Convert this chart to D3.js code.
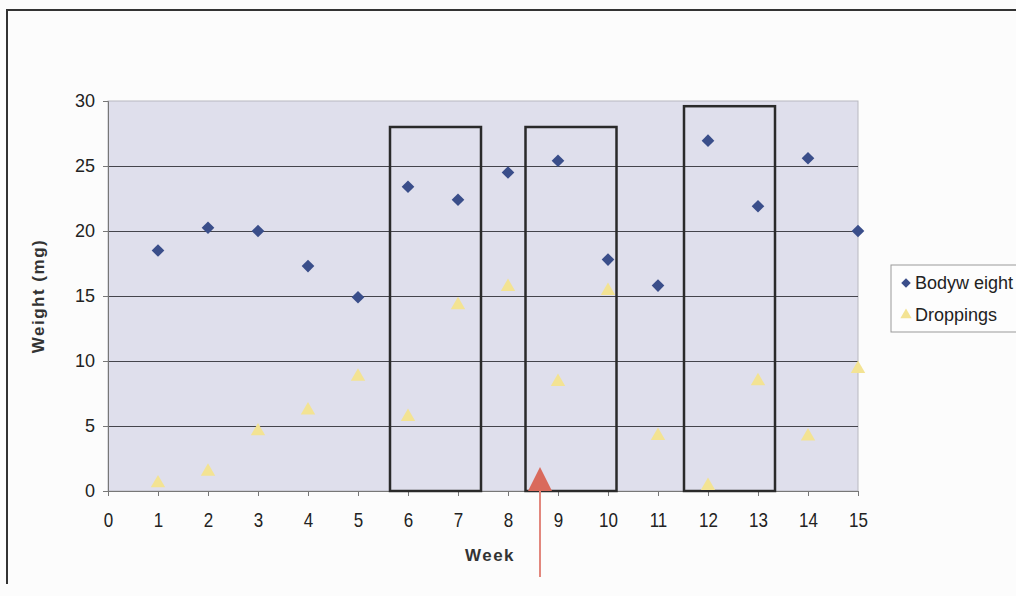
<!DOCTYPE html>
<html>
<head>
<meta charset="utf-8">
<script src="https://cdn.jsdelivr.net/npm/d3@7/dist/d3.min.js"></script>
<style>
  html, body { margin: 0; padding: 0; background: #fcfcfc; }
  svg { display: block; font-family: "Liberation Sans", Arial, sans-serif; }
</style>
</head>
<body>
<svg id="chart" width="1016" height="596"></svg>
<script>
// Weekly measurements
const weeks = [1, 2, 3, 4, 5, 6, 7, 8, 9, 10, 11, 12, 13, 14, 15];
const bodyweight = [18.5, 20.25, 20.0, 17.3, 14.9, 23.4, 22.4, 24.5, 25.4, 17.8, 15.8, 26.95, 21.9, 25.6, 20.0];
const droppings = [0.6, 1.5, 4.6, 6.2, 8.8, 5.7, 14.3, 15.7, 8.4, 15.4, 4.25, 0.4, 8.45, 4.2, 9.4];

// Axis ticks
const xTicks = d3.range(0, 16);
const yTicks = [0, 5, 10, 15, 20, 25, 30];

// Highlighted periods (in weeks) and their heights
const boxStart = [5.64, 8.35, 11.52];
const boxEnd = [7.46, 10.17, 13.34];
const boxTop = [28, 28, 29.6];

// Treatment marker
const arrowWeek = 8.64;

const seriesNames = ["Bodyw eight", "Droppings"];

const svg = d3.select("#chart");

// Outer chart frame
svg.append("path")
  .attr("d", "M7,584 L7,10 L1016,10")
  .attr("fill", "none")
  .attr("stroke", "#333")
  .attr("stroke-width", 2);

const x = d3.scaleLinear().domain([0, 15]).range([108, 858]);
const y = d3.scaleLinear().domain([0, 30]).range([491, 101]);

// Plot background
svg.append("rect")
  .attr("x", x(0)).attr("y", y(30))
  .attr("width", x(15) - x(0)).attr("height", y(0) - y(30))
  .attr("fill", "#dfdfec")
  .attr("stroke", "#b8b8c0")
  .attr("stroke-width", 1);

// Horizontal gridlines
svg.append("g")
  .selectAll("line")
  .data(yTicks.filter(d => d > 0 && d < 30))
  .join("line")
  .attr("x1", x(0)).attr("x2", x(15))
  .attr("y1", d => Math.round(y(d)) + 0.5).attr("y2", d => Math.round(y(d)) + 0.5)
  .attr("stroke", "#44444c")
  .attr("stroke-width", 1);

// Y axis
const yAxis = svg.append("g")
  .attr("transform", `translate(${x(0)},0)`)
  .call(d3.axisLeft(y).tickValues(yTicks).tickSize(5).tickPadding(8));
yAxis.select(".domain").attr("stroke", "#777");
yAxis.selectAll(".tick line").attr("stroke", "#777");
yAxis.selectAll(".tick text")
  .attr("font-size", 18)
  .attr("fill", "#222");

// X axis
const xAxis = svg.append("g")
  .attr("transform", `translate(0,${y(0)})`)
  .call(d3.axisBottom(x).tickValues(xTicks).tickSize(5).tickPadding(6));
xAxis.select(".domain").attr("stroke", "#777");
xAxis.selectAll(".tick line").attr("stroke", "#777");
xAxis.selectAll(".tick text")
  .attr("font-size", 17)
  .attr("fill", "#222")
  .attr("transform", "translate(0,8) scale(1,1.2)");

// Axis titles
svg.append("text")
  .attr("x", 490).attr("y", 561)
  .attr("text-anchor", "middle")
  .attr("font-size", 17)
  .attr("font-weight", "bold")
  .attr("letter-spacing", 1.5)
  .attr("fill", "#333")
  .text("Week");

svg.append("text")
  .attr("transform", "translate(44,296) rotate(-90)")
  .attr("text-anchor", "middle")
  .attr("font-size", 17)
  .attr("font-weight", "bold")
  .attr("letter-spacing", 1.5)
  .attr("fill", "#333")
  .text("Weight (mg)");

// Highlight boxes
svg.append("g")
  .selectAll("rect")
  .data(boxStart.map((s, i) => ({ s, e: boxEnd[i], t: boxTop[i] })))
  .join("rect")
  .attr("x", d => x(d.s)).attr("y", d => y(d.t))
  .attr("width", d => x(d.e) - x(d.s))
  .attr("height", d => y(0) - y(d.t))
  .attr("fill", "none")
  .attr("stroke", "#2a2a2a")
  .attr("stroke-width", 2.5);

// Series markers
const diamond = d3.symbol().type(d3.symbolSquare).size(80);
svg.append("g")
  .selectAll("path")
  .data(weeks.map((w, i) => [w, bodyweight[i]]))
  .join("path")
  .attr("d", diamond)
  .attr("transform", d => `translate(${x(d[0])},${y(d[1])}) rotate(45)`)
  .attr("fill", "#3a4e8a");

const tri = d3.symbol().type(d3.symbolTriangle).size(90);
svg.append("g")
  .selectAll("path")
  .data(weeks.map((w, i) => [w, droppings[i]]))
  .join("path")
  .attr("d", tri)
  .attr("transform", d => `translate(${x(d[0])},${y(d[1])})`)
  .attr("fill", "#f3e393");

// Treatment arrow
svg.append("line")
  .attr("x1", x(arrowWeek)).attr("x2", x(arrowWeek))
  .attr("y1", y(0)).attr("y2", 577)
  .attr("stroke", "#e2877d")
  .attr("stroke-width", 2);
svg.append("path")
  .attr("d", `M${x(arrowWeek) - 12},${y(0)} L${x(arrowWeek)},${y(0) - 24} L${x(arrowWeek) + 12},${y(0)} Z`)
  .attr("fill", "#d96a5c");

// Legend
const lg = svg.append("g");
lg.append("rect")
  .attr("x", 891).attr("y", 265)
  .attr("width", 140).attr("height", 67)
  .attr("fill", "#fdfdfd")
  .attr("stroke", "#999")
  .attr("stroke-width", 1);
lg.append("path")
  .attr("d", d3.symbol().type(d3.symbolSquare).size(45))
  .attr("transform", "translate(906,283) rotate(45)")
  .attr("fill", "#3a4e8a");
lg.append("path")
  .attr("d", d3.symbol().type(d3.symbolTriangle).size(55))
  .attr("transform", "translate(906,315)")
  .attr("fill", "#f3e393");
lg.selectAll("text")
  .data(seriesNames)
  .join("text")
  .attr("x", 915)
  .attr("y", (d, i) => 289 + i * 32)
  .attr("font-size", 18)
  .attr("fill", "#222")
  .text(d => d);
</script>
</body>
</html>
